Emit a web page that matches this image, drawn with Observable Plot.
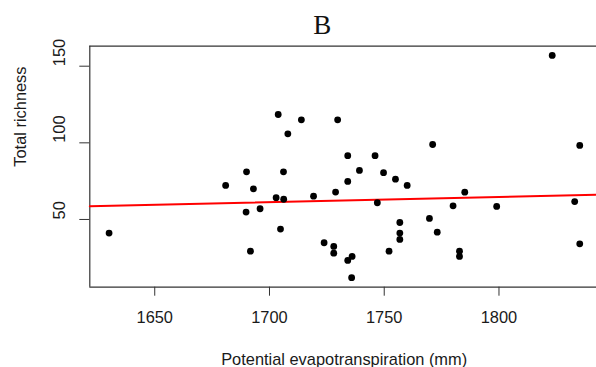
<!DOCTYPE html>
<html>
<head>
<meta charset="utf-8">
<script src="https://cdn.jsdelivr.net/npm/d3@7"></script>
<script src="https://cdn.jsdelivr.net/npm/@observablehq/plot@0.6"></script>
<style>
  html, body { margin: 0; padding: 0; background: #fff; overflow: hidden; }
</style>
</head>
<body>
<div id="chart"></div>
<script>
// Data
const pet = [1630.1, 1703.8, 1713.9, 1729.7, 1708.0, 1690.0, 1706.1, 1680.9, 1693.0, 1702.9,
             1706.2, 1719.2, 1728.8, 1689.8, 1695.9, 1704.8, 1691.7, 1723.8, 1728.0, 1728.0,
             1823.2, 1771.1, 1835.2, 1734.1, 1746.0, 1739.2, 1734.1, 1749.7, 1754.9, 1760.0,
             1785.1, 1747.0, 1780.0, 1799.0, 1833.0, 1756.8, 1769.7, 1773.1, 1756.8, 1756.8,
             1752.1, 1734.1, 1736.0, 1782.8, 1782.8, 1835.2, 1735.8];
const richness = [41.1, 118.5, 115.0, 115.0, 105.9, 81.1, 81.1, 72.2, 70.0, 64.2,
                  63.2, 65.2, 67.9, 54.8, 57.0, 43.7, 29.3, 34.8, 32.4, 28.0,
                  157.0, 98.9, 98.3, 91.6, 91.6, 82.0, 74.8, 80.5, 76.3, 72.2,
                  67.8, 60.9, 58.9, 58.5, 61.7, 48.0, 50.7, 41.7, 41.1, 37.0,
                  29.3, 23.3, 25.9, 29.3, 25.9, 34.1, 12.0];
const xTicks = [1650, 1700, 1750, 1800];
const yTicks = [50, 100, 150];
const fitIntercept = 3.46;
const fitSlope = 0.034;
const titleText = "B";
const xLabel = "Potential evapotranspiration (mm)";
const yLabel = "Total richness";

const points = pet.map((x, i) => ({x, y: richness[i]}));
const xDomain = [1621.7, 1842.5];
const yDomain = [5.8, 163.05];
const fitLine = xDomain.map(x => ({x, y: fitIntercept + fitSlope * x}));

const font = "'Liberation Sans', Arial, sans-serif";
const ink = "#1a1a1a";

const chart = Plot.plot({
  width: 596,
  height: 367,
  marginLeft: 89.3,
  marginRight: 0,
  marginTop: 45.7,
  marginBottom: 80.3,
  style: {fontFamily: font, fontSize: "16.4px", color: "#333", background: "#fff"},
  x: {domain: xDomain, ticks: xTicks, tickSize: 9, tickFormat: () => "", label: null},
  y: {domain: yDomain, ticks: yTicks, tickSize: 10, tickFormat: () => "", label: null},
  marks: [
    Plot.ruleY(yDomain, {stroke: "#333", strokeWidth: 1.2}),
    Plot.ruleX([xDomain[0]], {stroke: "#333", strokeWidth: 1.2}),
    Plot.line(fitLine, {x: "x", y: "y", stroke: "#ff0000", strokeWidth: 2}),
    Plot.dot(points, {x: "x", y: "y", r: 3.4, fill: "#000", stroke: "none"}),
    Plot.text(xTicks, {x: d => d, text: d => String(d), frameAnchor: "bottom",
      lineAnchor: "bottom", dy: 36, fill: ink, fontSize: 16.4}),
    Plot.text(yTicks, {y: d => d, text: d => String(d), frameAnchor: "left",
      lineAnchor: "bottom", rotate: -90, dx: -24.8, fill: ink, fontSize: 16.4}),
    Plot.text([yLabel], {text: d => d, frameAnchor: "left", lineAnchor: "bottom",
      rotate: -90, dx: -63.8, fill: ink, fontSize: 16.4}),
    Plot.text([xLabel], {text: d => d, frameAnchor: "bottom", lineAnchor: "bottom",
      dy: 77.7, dx: 1, fill: ink, fontSize: 16.4}),
    Plot.text([titleText], {text: d => d, frameAnchor: "top", lineAnchor: "bottom",
      dy: -12.4, dx: -21, fill: "#111", fontSize: 27,
      fontFamily: "'Liberation Serif', 'Times New Roman', serif"})
  ]
});
document.getElementById("chart").appendChild(chart);
</script>
</body>
</html>
